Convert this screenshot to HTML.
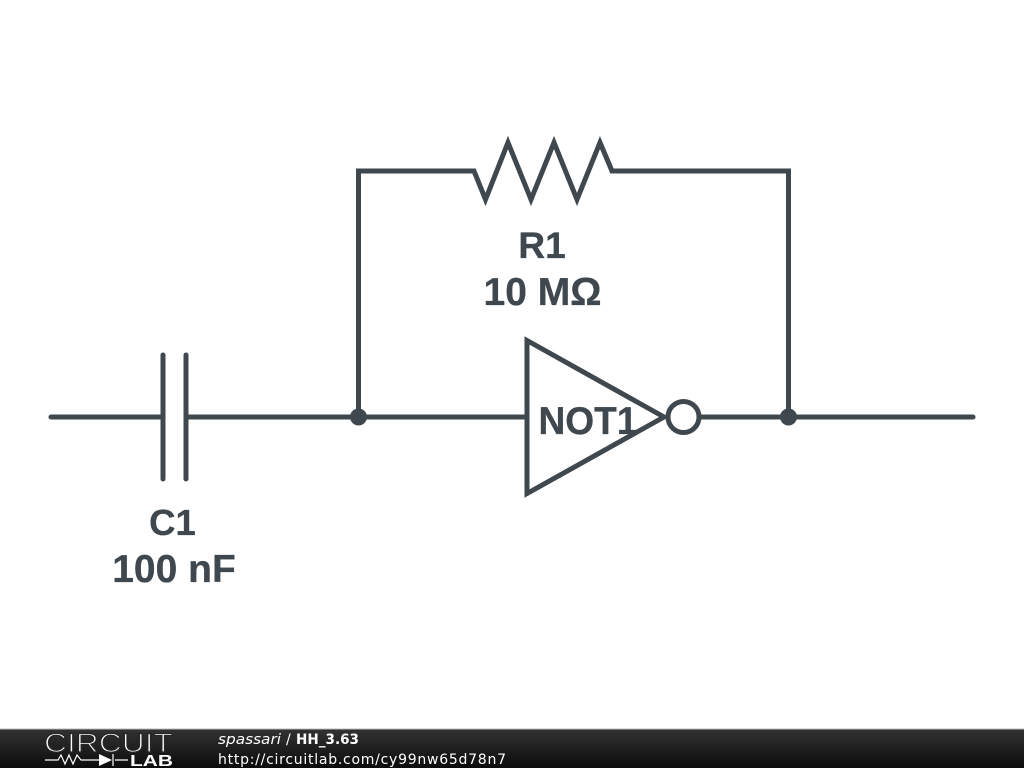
<!DOCTYPE html>
<html><head><meta charset="utf-8"><style>html,body{margin:0;padding:0;background:#fff;width:1024px;height:768px;overflow:hidden}svg{display:block}</style></head>
<body>
<svg width="1024" height="768" viewBox="0 0 1024 768" xmlns="http://www.w3.org/2000/svg">
<defs><linearGradient id="g" x1="0" y1="0" x2="0" y2="1"><stop offset="0" stop-color="#333"/><stop offset="1" stop-color="#0c0c0c"/></linearGradient></defs>
<rect width="1024" height="768" fill="#fff"/>
<g fill="none" stroke="#3e484e" stroke-width="5" stroke-linecap="round" stroke-linejoin="miter">
<path d="M51 417H163M186 417H527"/>
<path d="M163 355V479M186 355V479"/>
<path d="M358.500 417V171H474L485.500 199.500L508 142.500L531 199.500L554 142.500L577 199.500L600 142.500L612 171H788.500V417"/>
<path d="M527 340.500V493.500L664 417Z"/>
<circle cx="683.500" cy="417" r="15.500"/>
<path d="M700 417H973"/>
</g>
<circle cx="358.500" cy="417" r="8.500" fill="#3e484e"/>
<circle cx="788.500" cy="417" r="8.500" fill="#3e484e"/>
<g font-family="'Liberation Sans',sans-serif" font-weight="700" font-size="39" fill="#3e484e" text-anchor="middle" stroke="#3e484e" stroke-width="0.3">
<text x="542" y="258" font-size="37">R1</text>
<text x="542.500" y="305">10 MΩ</text>
<text x="588" y="434" font-size="38.500" textLength="99" lengthAdjust="spacingAndGlyphs">NOT1</text>
<text x="172.500" y="535" font-size="36.500">C1</text>
<text x="174" y="582">100 nF</text>
</g>
<rect y="729" width="1024" height="39" fill="url(#g)"/>
<rect y="728.500" width="1024" height="1" fill="#bbb"/>
<text x="44" y="752" font-family="'Liberation Sans',sans-serif" font-size="26.500" fill="#fff" stroke="#262626" stroke-width="1.300" textLength="129" lengthAdjust="spacingAndGlyphs">CIRCUIT</text>
<path d="M45 760H58L61 755L65 764L69 755L73 764L77 755L81 760H99M115 760H128M113 754V766" fill="none" stroke="#fff" stroke-width="1.200"/>
<path d="M99 754V766L112 760Z" fill="#fff"/>
<text x="130" y="766" font-family="'Liberation Sans',sans-serif" font-weight="700" font-size="16" fill="#fff" textLength="43" lengthAdjust="spacingAndGlyphs">LAB</text>
<text x="218" y="744" font-family="'DejaVu Sans',sans-serif" font-size="14" font-style="italic" fill="#fff" textLength="63" lengthAdjust="spacingAndGlyphs">spassari</text>
<text x="286" y="744" font-family="'DejaVu Sans',sans-serif" font-size="14" fill="#fff">/</text>
<text x="296" y="744" font-family="'DejaVu Sans',sans-serif" font-size="14" font-weight="700" fill="#fff" textLength="63" lengthAdjust="spacingAndGlyphs">HH_3.63</text>
<text x="218" y="764" font-family="'DejaVu Sans',sans-serif" font-size="14" fill="#fff" textLength="288">http://circuitlab.com/cy99nw65d78n7</text>
</svg>
</body></html>
